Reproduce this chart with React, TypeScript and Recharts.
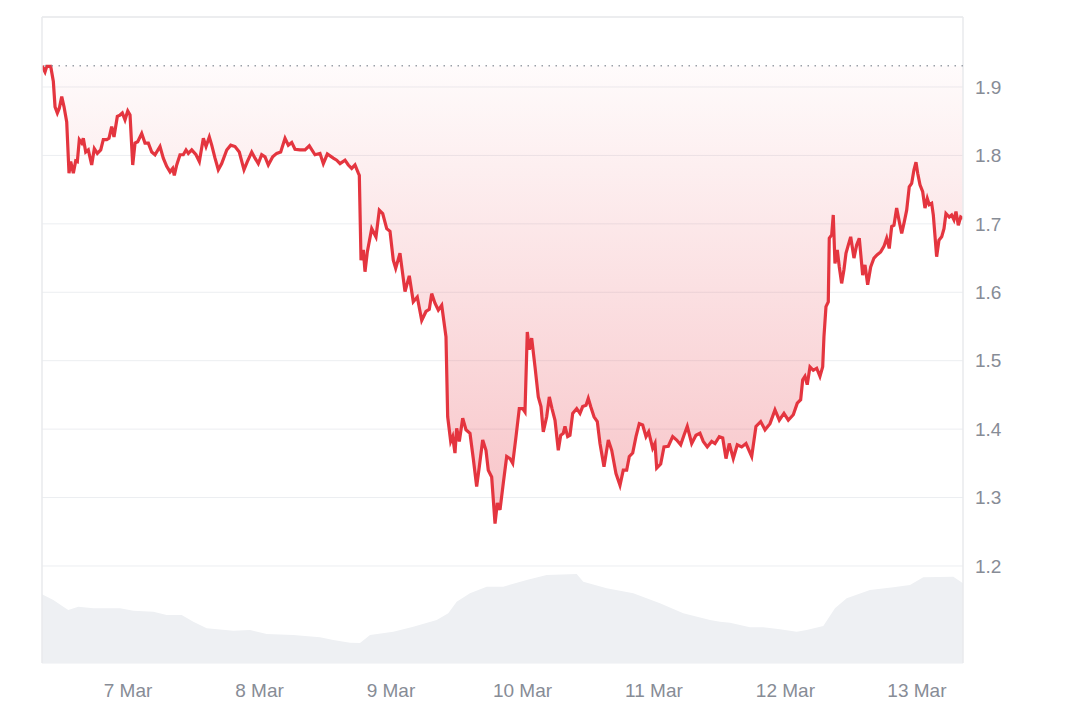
import React from "react";
import {
  ComposedChart,
  Area,
  XAxis,
  YAxis,
  CartesianGrid,
  ReferenceLine,
} from "recharts";

// hours since 6 Mar 00:00, price
const priceSeries: [number, number][] = [
  [8.3,1.931],[8.85,1.922],[9.16,1.930],[9.89,1.930],[10.37,1.908],[10.68,1.871],[11.10,1.862],[11.46,1.869],[11.90,1.886],[12.32,1.871],[12.81,1.849],[13.23,1.774],[13.54,1.791],[14.02,1.774],[14.45,1.792],[14.75,1.791],[15.11,1.823],[15.55,1.818],[15.84,1.825],[16.28,1.805],[16.75,1.808],[17.37,1.786],[17.85,1.810],[18.40,1.803],[19.02,1.808],[19.49,1.823],[20.11,1.823],[20.53,1.825],[21.02,1.842],[21.44,1.827],[22.05,1.857],[22.54,1.859],[22.96,1.862],[23.45,1.852],[23.95,1.865],[24.37,1.859],[24.86,1.786],[25.28,1.818],[25.77,1.820],[26.50,1.832],[27.10,1.818],[27.71,1.818],[28.33,1.805],[28.93,1.801],[29.84,1.813],[30.44,1.796],[31.06,1.784],[31.67,1.776],[32.16,1.781],[32.45,1.771],[32.89,1.786],[33.49,1.801],[34.09,1.801],[34.59,1.808],[35.01,1.803],[35.63,1.808],[36.41,1.801],[37.02,1.791],[37.75,1.825],[38.24,1.813],[38.84,1.827],[39.28,1.815],[39.88,1.796],[40.48,1.779],[41.10,1.788],[42.02,1.808],[42.75,1.815],[43.53,1.813],[44.31,1.805],[45.17,1.779],[45.78,1.791],[46.58,1.805],[47.18,1.796],[47.78,1.788],[48.40,1.801],[49.01,1.798],[49.61,1.786],[50.41,1.798],[51.14,1.803],[51.87,1.805],[52.66,1.825],[53.26,1.815],[53.88,1.819],[54.48,1.809],[55.39,1.808],[56.31,1.808],[57.09,1.814],[58.13,1.801],[59.04,1.803],[59.65,1.788],[60.38,1.802],[61.47,1.796],[62.09,1.793],[62.70,1.788],[63.61,1.793],[64.21,1.786],[64.83,1.781],[65.43,1.786],[66.04,1.774],[66.22,1.771],[66.53,1.647],[66.95,1.662],[67.26,1.630],[67.68,1.659],[68.48,1.693],[69.26,1.681],[69.87,1.720],[70.49,1.715],[71.22,1.693],[71.82,1.689],[72.42,1.647],[72.86,1.635],[73.64,1.657],[74.56,1.601],[75.34,1.624],[76.07,1.586],[76.80,1.593],[77.61,1.559],[78.39,1.572],[78.99,1.575],[79.43,1.598],[80.03,1.584],[80.64,1.574],[81.26,1.581],[82.04,1.535],[82.35,1.418],[82.90,1.382],[83.26,1.389],[83.68,1.365],[83.99,1.401],[84.47,1.382],[85.09,1.416],[85.69,1.399],[86.42,1.394],[87.02,1.357],[87.64,1.316],[88.12,1.345],[88.74,1.384],[89.34,1.369],[89.76,1.340],[90.38,1.330],[90.99,1.262],[91.41,1.292],[91.90,1.282],[92.50,1.321],[93.12,1.360],[93.72,1.357],[94.22,1.350],[94.82,1.389],[95.42,1.430],[96.04,1.430],[96.46,1.425],[96.88,1.542],[97.25,1.516],[97.68,1.533],[98.29,1.491],[98.89,1.447],[99.38,1.433],[99.80,1.396],[100.42,1.418],[100.90,1.447],[101.39,1.430],[101.94,1.413],[102.54,1.369],[102.98,1.391],[103.45,1.394],[103.76,1.404],[104.25,1.389],[104.67,1.391],[105.17,1.423],[105.90,1.430],[106.50,1.423],[106.99,1.433],[107.60,1.435],[108.01,1.445],[108.45,1.433],[109.06,1.418],[109.66,1.411],[110.15,1.379],[110.88,1.345],[111.67,1.384],[112.29,1.369],[113.07,1.335],[113.80,1.318],[114.40,1.340],[115.02,1.340],[115.50,1.360],[116.12,1.365],[116.72,1.389],[117.32,1.408],[117.94,1.406],[118.55,1.389],[119.04,1.396],[119.77,1.372],[120.19,1.379],[120.50,1.343],[121.23,1.349],[121.83,1.374],[122.62,1.375],[123.42,1.389],[124.15,1.384],[124.88,1.377],[125.48,1.391],[126.08,1.404],[126.89,1.379],[127.67,1.391],[128.40,1.394],[129.00,1.382],[129.73,1.374],[130.54,1.382],[131.14,1.379],[131.92,1.389],[132.55,1.387],[133.15,1.357],[133.75,1.379],[134.48,1.357],[135.21,1.377],[136.01,1.374],[136.80,1.379],[137.84,1.360],[138.62,1.404],[139.48,1.411],[140.27,1.399],[141.18,1.408],[142.09,1.428],[142.88,1.413],[143.73,1.423],[144.52,1.413],[145.43,1.421],[146.16,1.438],[146.78,1.443],[147.15,1.472],[147.56,1.477],[147.98,1.465],[148.48,1.491],[149.08,1.486],[149.70,1.489],[150.30,1.477],[150.80,1.491],[151.03,1.535],[151.40,1.579],[151.82,1.586],[152.00,1.679],[152.44,1.684],[152.73,1.713],[153.04,1.642],[153.46,1.662],[153.83,1.637],[154.26,1.613],[154.68,1.633],[155.05,1.657],[155.47,1.669],[155.91,1.681],[156.51,1.650],[157.00,1.669],[157.48,1.679],[158.10,1.625],[158.52,1.640],[159.01,1.611],[159.56,1.637],[160.16,1.650],[160.76,1.655],[161.38,1.659],[161.98,1.667],[162.48,1.679],[162.95,1.664],[163.39,1.696],[163.81,1.698],[164.30,1.723],[164.78,1.703],[165.22,1.686],[165.69,1.703],[166.13,1.720],[166.60,1.754],[167.04,1.759],[167.46,1.779],[167.83,1.790],[168.14,1.774],[168.56,1.757],[169.05,1.747],[169.47,1.723],[169.89,1.737],[170.25,1.728],[170.69,1.730],[170.99,1.713],[171.60,1.652],[172.02,1.676],[172.52,1.681],[172.94,1.693],[173.30,1.715],[173.90,1.710],[174.34,1.713],[174.76,1.706],[175.13,1.718],[175.55,1.698],[175.99,1.710],[176.41,1.708],
];

// hours since 6 Mar 00:00, traded volume (billions)
const volumeSeries: [number, number][] = [
  [8.3,0.687],[10.37,0.63],[12.19,0.563],[13.10,0.53],[14.93,0.563],[17.67,0.547],[22.54,0.547],[24.97,0.523],[28.62,0.513],[31.06,0.48],[33.80,0.48],[35.92,0.413],[38.36,0.347],[43.22,0.323],[46.27,0.33],[49.32,0.29],[54.17,0.28],[59.04,0.257],[61.47,0.23],[64.52,0.203],[66.35,0.2],[68.17,0.28],[72.42,0.313],[76.07,0.363],[80.35,0.43],[82.46,0.497],[83.99,0.613],[86.42,0.697],[89.47,0.763],[92.50,0.763],[96.77,0.83],[100.42,0.88],[105.90,0.89],[107.10,0.813],[111.37,0.747],[116.23,0.697],[121.10,0.597],[125.35,0.497],[130.23,0.43],[132.05,0.413],[133.88,0.403],[137.53,0.357],[139.96,0.357],[143.00,0.337],[146.05,0.313],[147.88,0.33],[150.91,0.37],[153.04,0.547],[155.18,0.647],[159.43,0.73],[163.69,0.757],[166.73,0.78],[169.16,0.857],[174.64,0.863],[176.41,0.797],
];

const openPrice = 1.931;
const priceTicks = [1.2, 1.3, 1.4, 1.5, 1.6, 1.7, 1.8, 1.9];
const dayTicks = [24, 48, 72, 96, 120, 144, 168];
const dayLabels = ["7 Mar", "8 Mar", "9 Mar", "10 Mar", "11 Mar", "12 Mar", "13 Mar"];
const timeDomain: [number, number] = [8.3, 176.41];
const priceDomain: [number, number] = [1.0582, 2.0023];

const priceData = priceSeries.map(([t, price]) => ({ t, price }));
const volumeData = volumeSeries.map(([t, volume]) => ({ t, volume }));

const FONT = "'Liberation Sans', Arial, sans-serif";
const TEXT = "#878c96";
const BORDER = "#e8eaed";

export default function App() {
  return (
    <div style={{ width: 1072, height: 712, background: "#fff", fontFamily: FONT }}>
      <ComposedChart
        width={1072}
        height={712}
        margin={{ top: 9, right: 57, bottom: 17, left: 34 }}
      >
        <defs>
          <linearGradient id="redFill" x1="0" y1="0" x2="0" y2="1">
            <stop offset="0%" stopColor="#e63946" stopOpacity={0.02} />
            <stop offset="100%" stopColor="#e63946" stopOpacity={0.3} />
          </linearGradient>
        </defs>
        <CartesianGrid yAxisId="price" vertical={false} stroke="#eceef1" strokeWidth={1} />
        <XAxis
          dataKey="t"
          type="number"
          domain={timeDomain}
          allowDataOverflow
          ticks={dayTicks}
          tickFormatter={(v: number) => dayLabels[dayTicks.indexOf(v)] ?? ""}
          axisLine={false}
          tickLine={false}
          tickSize={0}
          tickMargin={21}
          height={40}
          tick={{ fill: TEXT, fontSize: 19, fontFamily: FONT }}
        />
        <YAxis
          yAxisId="price"
          orientation="right"
          type="number"
          domain={priceDomain}
          allowDataOverflow
          ticks={priceTicks}
          tickFormatter={(v: number) => v.toFixed(1)}
          axisLine={false}
          tickLine={false}
          tickSize={0}
          tickMargin={12}
          width={60}
          tick={{ fill: TEXT, fontSize: 19, fontFamily: FONT }}
        />
        <YAxis yAxisId="vol" hide type="number" domain={[0, 6.46]} allowDataOverflow />
        <Area
          yAxisId="vol"
          data={volumeData}
          dataKey="volume"
          type="linear"
          stroke="none"
          fill="#eef0f3"
          fillOpacity={1}
          isAnimationActive={false}
        />
        <ReferenceLine yAxisId="price" x={timeDomain[0]} stroke={BORDER} strokeWidth={1.5} />
        <ReferenceLine yAxisId="price" x={timeDomain[1]} stroke={BORDER} strokeWidth={1.5} />
        <ReferenceLine yAxisId="price" y={priceDomain[1]} stroke={BORDER} strokeWidth={1.5} />
        <ReferenceLine
          yAxisId="price"
          y={openPrice}
          stroke="#9aa0a8"
          strokeWidth={1.5}
          strokeDasharray="1.5 5.5"
        />
        <Area
          yAxisId="price"
          data={priceData}
          dataKey="price"
          type="linear"
          baseValue={openPrice}
          stroke="#e4353f"
          strokeWidth={3.2}
          fill="url(#redFill)"
          fillOpacity={1}
          dot={false}
          activeDot={false}
          isAnimationActive={false}
        />
      </ComposedChart>
    </div>
  );
}
